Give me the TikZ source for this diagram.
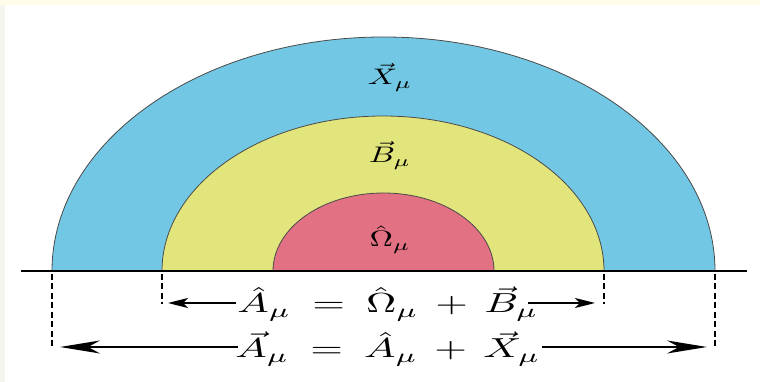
\documentclass[tikz,border=0pt]{standalone}
\usepackage{amsmath}
\usetikzlibrary{arrows.meta}
\definecolor{cream}{HTML}{FFFDE9}
\definecolor{strip}{HTML}{F5F5F0}
\definecolor{outerblue}{HTML}{72C8E4}
\definecolor{midyellow}{HTML}{E2E57B}
\definecolor{innerpink}{HTML}{E17183}
\definecolor{rim}{HTML}{4A4A4A}
\tikzset{
  rimline/.style={draw=rim, line width=0.8pt},
  dashline/.style={line width=1.7pt, dash pattern=on 6pt off 3.5pt},
  smallarrow/.style={line width=1.6pt, -{Stealth[length=20pt,width=10pt,inset=5pt]}},
  bigarrow/.style={line width=1.8pt, -{Stealth[length=40pt,width=13pt,inset=12pt]}},
  lbl/.style={anchor=base, inner sep=0pt},
}
\newcommand{\lblscale}[1]{\scalebox{3.25}[2.25]{$#1$}}
\newcommand{\eqscale}[1]{\scalebox{4.2}[2.75]{$#1$}}
\begin{document}
\begin{tikzpicture}[x=1pt,y=1pt]
\useasboundingbox (0,0) rectangle (760,382);
\fill[cream] (0,0) rectangle (760,382);
\fill[strip] (0,0) rectangle (5,377);
\fill[white] (5,0) rectangle (760,377);
% semi-ellipses
\fill[outerblue] (52,111) arc[start angle=180,end angle=0,x radius=331.5,y radius=234] -- cycle;
\draw[rimline] (52,111) arc[start angle=180,end angle=0,x radius=331.5,y radius=234];
\fill[midyellow] (162,111) arc[start angle=180,end angle=0,x radius=221,y radius=155] -- cycle;
\draw[rimline] (162,111) arc[start angle=180,end angle=0,x radius=221,y radius=155];
\fill[innerpink] (273,111) arc[start angle=180,end angle=0,x radius=110.5,y radius=78] -- cycle;
\draw[rimline] (273,111) arc[start angle=180,end angle=0,x radius=110.5,y radius=78];
% base line
\coordinate (bl) at (21,111);
\coordinate (br) at (747,111);
\draw[line width=2pt] (bl) -- (br);
% labels
\node[lbl] (X) at (390,297) {\lblscale{\vec X_\mu}};
\node[lbl] (B) at (390,219) {\lblscale{\vec B_\mu}};
\node[lbl] (O) at (390,135) {\lblscale{\hat\Omega_\mu}};
% dashed markers
\coordinate (d1t) at (162,108); \coordinate (d1b) at (162,78);
\coordinate (d2t) at (604,108); \coordinate (d2b) at (604,78);
\coordinate (d3t) at (52,108);  \coordinate (d3b) at (52,33);
\coordinate (d4t) at (715,108); \coordinate (d4b) at (715,33);
\draw[dashline] (d1t) -- (d1b);
\draw[dashline] (d2t) -- (d2b);
\draw[dashline] (d3t) -- (d3b);
\draw[dashline] (d4t) -- (d4b);
% equations
\node[lbl] (eq1) at (388,69) {\eqscale{\hat A_\mu \:=\: \hat\Omega_\mu \,+\, \vec B_\mu}};
\node[lbl] (eq2) at (388,24) {\eqscale{\vec A_\mu \:=\: \hat A_\mu \,+\, \vec X_\mu}};
% arrows
\coordinate (a1s) at (236,79); \coordinate (a1e) at (168,79);
\coordinate (a2s) at (528,79); \coordinate (a2e) at (595,79);
\coordinate (a3s) at (238,35); \coordinate (a3e) at (60,35);
\coordinate (a4s) at (542,35); \coordinate (a4e) at (707,35);
\draw[smallarrow] (a1s) -- (a1e);
\draw[smallarrow] (a2s) -- (a2e);
\draw[bigarrow] (a3s) -- (a3e);
\draw[bigarrow] (a4s) -- (a4e);
\end{tikzpicture}
\end{document}
